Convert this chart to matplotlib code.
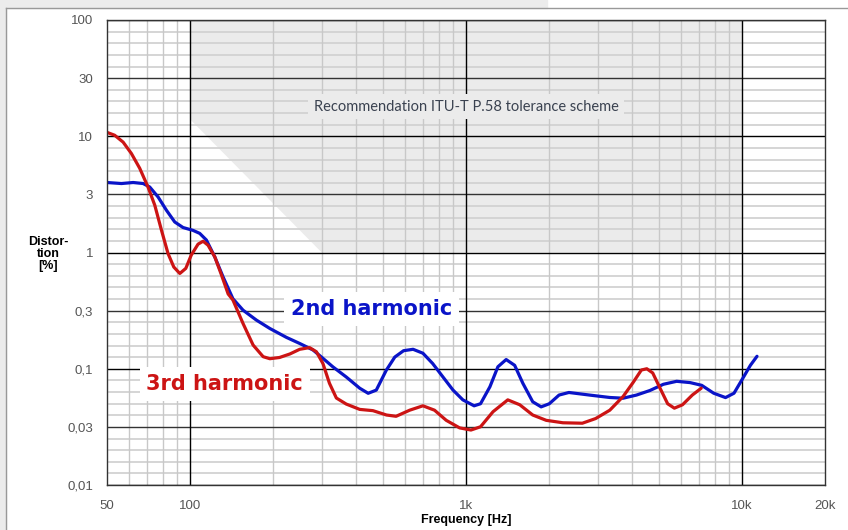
import numpy as np
import matplotlib.pyplot as plt
from matplotlib.patches import Rectangle, Polygon
from matplotlib.lines import Line2D

# 2nd harmonic (blue)
f2 = [50, 56.4, 62.2, 67.6, 71.4, 76.6, 82.1, 88, 94.3, 102.5, 108.4, 114.6, 122.9, 131.7,
      143, 155.6, 174, 194.6, 223.6, 249.6, 279, 303, 329, 368, 412, 442, 473, 514, 552, 594,
      643, 698, 757, 825, 897, 974, 1070, 1129, 1221, 1305, 1398, 1501, 1607, 1745, 1872, 2004,
      2174, 2360, 2800, 3320, 3710, 4150, 4640, 5190, 5800, 6490, 7150, 7900, 8720, 9360,
      10140, 10730, 11340]
d2 = [4.0, 3.92, 4.0, 3.92, 3.66, 3.0, 2.31, 1.83, 1.64, 1.55, 1.46, 1.28, 0.917, 0.617,
      0.40, 0.319, 0.262, 0.222, 0.186, 0.165, 0.145, 0.123, 0.104, 0.085, 0.068, 0.0615, 0.0655,
      0.097, 0.126, 0.143, 0.147, 0.136, 0.111, 0.085, 0.0656, 0.054, 0.048, 0.05, 0.07, 0.104,
      0.12, 0.107, 0.075, 0.052, 0.047, 0.05, 0.0594, 0.0625, 0.0594, 0.0566, 0.0558, 0.0594,
      0.065, 0.0735, 0.078, 0.076, 0.072, 0.0616, 0.0565, 0.0616, 0.085, 0.107, 0.128]

# 3rd harmonic (red)
f3 = [50, 53.3, 57.2, 61.3, 65.7, 70.4, 74.5, 78.8, 83.2, 87.3, 91.8, 96.5, 101, 106.9,
      111.5, 116.2, 122.9, 130, 137.4, 143, 155.6, 169.2, 184, 194.6, 211, 230, 249.6, 271,
      287, 303, 320, 339, 368, 412, 460, 515, 558, 625, 698, 769, 848, 948, 1042, 1129, 1253,
      1417, 1566, 1745, 1953, 2245, 2640, 2950, 3320, 3710, 4030, 4320, 4520, 4750, 5020,
      5380, 5690, 6090, 6610, 7120]
d3 = [10.8, 10.2, 8.9, 7.1, 5.3, 3.66, 2.55, 1.55, 0.98, 0.75, 0.66, 0.73, 0.95, 1.18,
      1.25, 1.155, 0.917, 0.64, 0.44, 0.39, 0.245, 0.16, 0.127, 0.122, 0.125, 0.134, 0.147,
      0.152, 0.14, 0.111, 0.075, 0.056, 0.0497, 0.0447, 0.0436, 0.04, 0.039, 0.044, 0.048,
      0.044, 0.036, 0.031, 0.0297, 0.0317, 0.0427, 0.054, 0.049, 0.04, 0.036, 0.0343, 0.034,
      0.0373, 0.044, 0.0577, 0.076, 0.0975, 0.1, 0.092, 0.07, 0.05, 0.0458, 0.049, 0.0594, 0.068]

# tolerance scheme outline
tol_f = [100, 100, 300, 10000, 10000]
tol_d = [100, 14, 1, 1, 100]

xticks = [50, 100, 1000, 10000, 20000]
xlabels = ['50', '100', '1k', '10k', '20k']
yticks = [0.01, 10**-1.5, 0.1, 10**-0.5, 1, 10**0.5, 10, 10**1.5, 100]
ylabels = ['0,01', '0,03', '0,1', '0,3', '1', '3', '10', '30', '100']

plt.rcParams['font.family'] = ['Liberation Sans', 'DejaVu Sans']

fig = plt.figure(figsize=(8.48, 5.30), dpi=100)
fig.patch.set_facecolor('white')
W, H = 848, 530
# outer gray frame bits
fig.patches.append(Rectangle((0, 0), 6 / W, 1, transform=fig.transFigure, color='#ececec', zorder=0))
fig.patches.append(Rectangle((0, 1 - 8 / H), 547 / W, 8 / H, transform=fig.transFigure, color='#ececec', zorder=0))
fig.lines.append(Line2D([6 / W, 6 / W], [0, 1 - 8 / H], transform=fig.transFigure, color='#999999', lw=1))
fig.lines.append(Line2D([6 / W, 1], [1 - 8 / H, 1 - 8 / H], transform=fig.transFigure, color='#999999', lw=1))

ax = fig.add_axes([107 / W, 1 - 485 / H, 718 / W, 465 / H])
ax.set_xscale('log')
ax.set_yscale('log')
ax.set_xlim(50, 20000)
ax.set_ylim(0.01, 100)

ax.add_patch(Polygon(list(zip(tol_f, tol_d)), closed=True, facecolor='#ebebeb', edgecolor='none', zorder=0))

# grid
for k in range(-20, 21):
    v = 10 ** (k / 10)
    if k % 10 == 0:
        ax.axhline(v, color='black', lw=1, zorder=1)
    elif k % 5 == 0:
        ax.axhline(v, color='#333333', lw=1, zorder=1)
    else:
        ax.axhline(v, color='#d2d2d2', lw=1.3, zorder=0.5)
for dec in [10, 100, 1000]:
    for m in range(2, 10):
        f = m * dec
        if 50 < f < 10000 and f not in (100, 1000):
            ax.axvline(f, color='#c8c8c8', lw=1, zorder=0.5)
for f in [100, 1000, 10000]:
    ax.axvline(f, color='black', lw=1, zorder=1)

ax.plot(f2, d2, color='#0a14c8', lw=2.3, zorder=3, solid_capstyle='round', solid_joinstyle='round')
ax.plot(f3, d3, color='#cc1414', lw=2.3, zorder=4, solid_capstyle='round', solid_joinstyle='round')

ax.set_xticks(xticks)
ax.set_xticklabels(xlabels)
ax.set_yticks(yticks)
ax.set_yticklabels(ylabels)
ax.minorticks_off()
ax.tick_params(length=0, labelsize=9.5, labelcolor='#555555')
ax.tick_params(axis='x', pad=10.5)
ax.tick_params(axis='y', pad=10)
for s in ax.spines.values():
    s.set_color('#333333')
    s.set_linewidth(1)
    s.set_zorder(5)

ax.text(0.5, 0.813, 'Recommendation ITU-T P.58 tolerance scheme', transform=ax.transAxes,
        ha='center', va='center', fontsize=10.5, color='#3a4250', family='Lato',
        bbox=dict(facecolor='#ebebeb', edgecolor='none', pad=4), zorder=2)
ax.text(0.369, 0.378, '2nd harmonic', transform=ax.transAxes, ha='center', va='center',
        fontsize=15, fontweight='bold', color='#0a14c8', family='DejaVu Sans',
        bbox=dict(facecolor='white', edgecolor='none', pad=5), zorder=2)
ax.text(0.164, 0.217, '3rd harmonic', transform=ax.transAxes, ha='center', va='center',
        fontsize=15, fontweight='bold', color='#cc1414', family='DejaVu Sans',
        bbox=dict(facecolor='white', edgecolor='none', pad=5), zorder=2)

fig.text(48 / W, 1 - 254 / H, 'Distor-\ntion\n[%]', ha='center', va='center',
         fontsize=9, fontweight='bold', linespacing=0.95)
fig.text(466 / W, 1 - 520 / H, 'Frequency [Hz]', ha='center', va='center',
         fontsize=9, fontweight='bold')

fig.savefig('out.png', dpi=100, facecolor=fig.get_facecolor())
